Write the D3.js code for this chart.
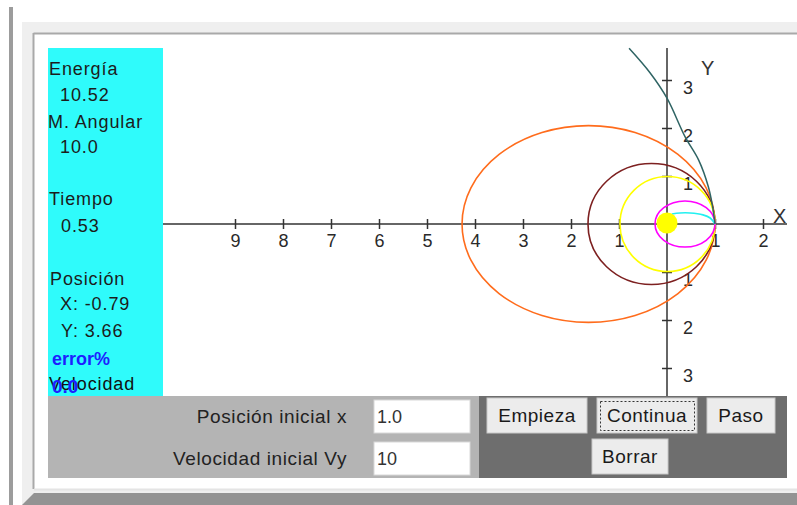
<!DOCTYPE html>
<html><head><meta charset="utf-8">
<script src="https://cdn.jsdelivr.net/npm/d3@7"></script>
<style>
body{margin:0;background:#fff;overflow:hidden}
svg{display:block}
text{font-family:"Liberation Sans",Arial,sans-serif}
</style>
</head><body><svg id="c" width="797" height="505"></svg>
<script>
// ---- data ----
const xTicks = [-9,-8,-7,-6,-5,-4,-3,-2,-1,1,2];
const yTicks = [-3,-2,-1,1,2,3];
const orbitNames = ["orange","maroon","yellow","magenta"];
const orbitCx = [-1.635,-0.323,0.01,0.375];
const orbitRx = [2.635,1.323,0.99,0.625];
const orbitRy = [2.05,1.26,0.99,0.48];
const cyanX = [1,0.9,0.75,0.48,0.27,0.1];
const cyanY = [0,0.125,0.19,0.23,0.23,0.21];
const tealX = [1,0.95,0.86,0.66,0.375,0.0,-0.354,-0.79];
const tealY = [0,0.36,0.78,1.33,1.82,2.62,3.15,3.66];
const sunPos = [0,0];
const infoLabels = ["Energía","10.52","M. Angular","10.0","Tiempo","0.53","Posición","X: -0.79","Y: 3.66"];
const inputLabels = ["Posición inicial x","Velocidad inicial Vy"];
const inputValues = ["1.0","10"];
const buttonLabels = ["Empieza","Continua","Paso","Borrar"];

// ---- styles / layout ----
const orbitColors = {orange:"#ff6c1c",maroon:"#7d2020",yellow:"#ffff00",magenta:"#ff00ff"};
const svg = d3.select("#c");

// frame
svg.append("rect").attr("x",9).attr("y",7).attr("width",4).attr("height",498).attr("fill","#9c9c9c");
svg.append("rect").attr("x",22).attr("y",22).attr("width",775).attr("height",483).attr("fill","#efefef");
svg.append("rect").attr("x",33).attr("y",33).attr("width",770).attr("height",456).attr("fill","#fff");
svg.append("line").attr("x1",33.5).attr("x2",797).attr("y1",33.5).attr("y2",33.5).attr("stroke","#a9a9a9").attr("stroke-width",2);
svg.append("line").attr("x1",33.5).attr("x2",33.5).attr("y1",33).attr("y2",489).attr("stroke","#a9a9a9").attr("stroke-width",2);
svg.append("line").attr("x1",34).attr("x2",797).attr("y1",489.5).attr("y2",489.5).attr("stroke","#e4e4e4").attr("stroke-width",2);
svg.append("path").attr("d","M22,505 L34,493 L797,493 L797,505 Z").attr("fill","#939393");

// scales
const x = d3.scaleLinear().domain([-10.5,2.5]).range([163,787]);
const y = d3.scaleLinear().domain([-3.6,3.6667]).range([396.8,48]);

// info panel
svg.append("rect").attr("x",48).attr("y",48).attr("width",115).attr("height",348).attr("fill","#2ffbfb");
const infoX = [49,60,48,60,49,61,50,60,61];
const infoY = [75,101,128,153,205,232,285,310,337];
svg.append("g").selectAll("text").data(infoLabels).join("text")
  .attr("x",(d,i)=>infoX[i]).attr("y",(d,i)=>infoY[i])
  .attr("font-size",18).attr("letter-spacing",0.9).attr("fill","#1c1c1c").text(d=>d);
svg.append("text").attr("x",49).attr("y",390).attr("font-size",18).attr("letter-spacing",0.9).attr("fill","#111").text("Velocidad");
svg.append("text").attr("x",52).attr("y",365).attr("font-size",18).attr("font-weight","bold").attr("fill","#1e1eff").text("error%");
svg.append("text").attr("x",52).attr("y",393).attr("font-size",19).attr("font-weight","bold").attr("fill","#1e1eff").text("0.0");

// axes
const gx = svg.append("g").attr("transform",`translate(0,${y(0)})`)
  .call(d3.axisBottom(x).tickValues(xTicks).tickSize(5).tickFormat(d=>Math.abs(d)));
gx.select(".domain").remove();
gx.selectAll(".tick line").attr("y1",-5).attr("y2",5).attr("stroke","#333").attr("stroke-width",1.5);
gx.selectAll(".tick text").attr("y",10).attr("dy","0.71em").attr("font-size",18).attr("fill","#2a2a2a").attr("font-family","Liberation Sans, Arial, sans-serif");
svg.append("line").attr("x1",163).attr("x2",x(2.5)).attr("y1",y(0)).attr("y2",y(0)).attr("stroke","#333").attr("stroke-width",1.5);

const gy = svg.append("g").attr("transform",`translate(${x(0)},0)`)
  .call(d3.axisRight(y).tickValues(yTicks).tickSize(5).tickFormat(d=>Math.abs(d)));
gy.select(".domain").remove();
gy.selectAll(".tick line").attr("x1",-5).attr("x2",5).attr("stroke","#333").attr("stroke-width",1.5);
gy.selectAll(".tick text").attr("x",16).attr("dy","0.75em").attr("text-anchor","start").attr("font-size",18).attr("fill","#2a2a2a").attr("font-family","Liberation Sans, Arial, sans-serif");
svg.append("line").attr("x1",x(0)).attr("x2",x(0)).attr("y1",48).attr("y2",396).attr("stroke","#333").attr("stroke-width",1.5);
svg.append("text").attr("x",773).attr("y",223).attr("font-size",20).attr("fill","#333").text("X");
svg.append("text").attr("x",701).attr("y",75).attr("font-size",20).attr("fill","#333").text("Y");

// orbits
svg.append("g").selectAll("ellipse").data(orbitNames).join("ellipse")
  .attr("cx",(d,i)=>x(orbitCx[i])).attr("cy",y(0))
  .attr("rx",(d,i)=>x(orbitRx[i])-x(0)).attr("ry",(d,i)=>y(0)-y(orbitRy[i]))
  .attr("fill","none").attr("stroke",d=>orbitColors[d]).attr("stroke-width",1.6);

const line = d3.line().x(d=>x(d[0])).y(d=>y(d[1])).curve(d3.curveCatmullRom.alpha(0.5));
svg.append("path").attr("d",line(cyanX.map((v,i)=>[v,cyanY[i]])))
  .attr("fill","none").attr("stroke","#22f0f0").attr("stroke-width",1.6);
svg.append("path").attr("d",line(tealX.map((v,i)=>[v,tealY[i]])))
  .attr("fill","none").attr("stroke","#2f6464").attr("stroke-width",1.5);
svg.append("circle").attr("cx",x(sunPos[0])).attr("cy",y(sunPos[1])-1).attr("r",10.5).attr("fill","#ffff00");

// control panel
svg.append("rect").attr("x",48).attr("y",396).attr("width",431).attr("height",82).attr("fill","#b4b4b4");
svg.append("rect").attr("x",479).attr("y",396).attr("width",308).attr("height",82).attr("fill","#6e6e6e");
const inY = [400,442];
inputLabels.forEach((t,i)=>{
  svg.append("text").attr("x",347).attr("y",inY[i]+23).attr("text-anchor","end")
    .attr("font-size",19).attr("letter-spacing",0.6).attr("fill","#222").text(t);
  svg.append("rect").attr("x",374).attr("y",inY[i]).attr("width",96).attr("height",33)
    .attr("fill","#fff").attr("stroke","#d8d8d8");
  svg.append("text").attr("x",377).attr("y",inY[i]+23).attr("font-size",18).attr("fill","#333").text(inputValues[i]);
});
const bx = [487,597,707,592], bw = [100,100,68,76], by = [398,398,398,439], bh=[35,35,35,35];
buttonLabels.forEach((t,i)=>{
  svg.append("rect").attr("x",bx[i]).attr("y",by[i]).attr("width",bw[i]).attr("height",bh[i])
    .attr("fill","#ececec").attr("stroke","#c8c8c8");
  svg.append("text").attr("x",bx[i]+bw[i]/2).attr("y",by[i]+24).attr("text-anchor","middle")
    .attr("font-size",19).attr("letter-spacing",0.5).attr("fill","#1a1a1a").text(t);
});
svg.append("rect").attr("x",600.5).attr("y",401.5).attr("width",94).attr("height",29)
  .attr("fill","none").attr("stroke","#333").attr("stroke-dasharray","2,2");
</script></body></html>
